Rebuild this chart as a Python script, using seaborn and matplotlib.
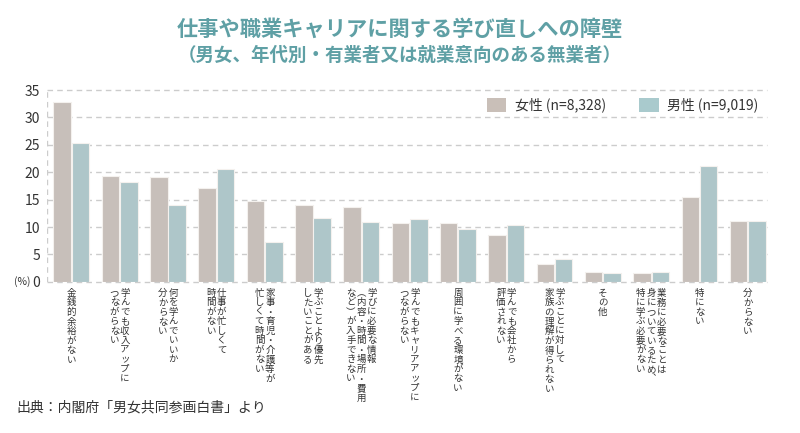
import numpy as np
import pandas as pd
import matplotlib
matplotlib.use("Agg")
import matplotlib.pyplot as plt
import matplotlib.transforms as mtrans
from matplotlib.patches import Patch
import seaborn as sns

# 縦書きラベル（右の列から順に）
labels = [
    ["金銭的余裕がない"],
    ["学んでも収入アップに", "つながらない"],
    ["何を学んでいいか", "分からない"],
    ["仕事が忙しくて", "時間がない"],
    ["家事・育児・介護等が", "忙しくて時間がない"],
    ["学ぶことより優先", "したいことがある"],
    ["学びに必要な情報", "︵内容・時間・場所・費用", "など︶が入手できない"],
    ["学んでもキャリアアップに", "つながらない"],
    ["周囲に学べる環境がない"],
    ["学んでも会社から", "評価されない"],
    ["学ぶことに対して", "家族の理解が得られない"],
    ["その他"],
    ["業務に必要なことは", "身についているため︑", "特に学ぶ必要がない"],
    ["特にない"],
    ["分からない"],
]
female = [32.9, 19.3, 19.2, 17.2, 14.7, 14.0, 13.6, 10.8, 10.8, 8.5, 3.3, 1.8, 1.7, 15.4, 11.1]
male = [25.4, 18.2, 14.0, 20.6, 7.2, 11.7, 10.9, 11.5, 9.7, 10.4, 4.1, 1.6, 1.8, 21.1, 11.1]
series = ["女性 (n=8,328)", "男性 (n=9,019)"]
colors = ["#c9bfb8", "#a9cacd"]
yticks = [0, 5, 10, 15, 20, 25, 30, 35]

sns.set_style("white")
plt.rcParams["font.family"] = ["Noto Sans CJK JP", "DejaVu Sans"]
txt = "#333333"

cats = [str(i) for i in range(len(labels))]
df = pd.DataFrame({
    "cat": cats * 2,
    "val": female + male,
    "sex": [series[0]] * len(cats) + [series[1]] * len(cats),
})

fig = plt.figure(figsize=(8, 4.33), dpi=100)
ax = fig.add_axes([0.059, 0.349, 0.9, 0.443])

sns.barplot(data=df, x="cat", y="val", hue="sex", palette=colors,
            width=0.76, gap=0.05, edgecolor="#f4f1ee", linewidth=0.8,
            legend=False, ax=ax, zorder=3)

ax.set_ylim(0, 35)
ax.set_xlim(-0.5, 14.4)
ax.set_yticks(yticks)
ax.set_yticklabels([str(t) for t in yticks], fontsize=10, color=txt)
ax.tick_params(axis="y", length=0, pad=5)
ax.set_xticks([])
ax.set_xlabel("")
ax.set_ylabel("")
for s in ax.spines.values():
    s.set_visible(False)
for t in yticks:
    ax.axhline(t, color="#cccccc", lw=1, ls=(0, (4, 3)), zorder=1, clip_on=False)
ax.axvline(-0.5, color="#cccccc", lw=1, ls=(0, (4, 3)), zorder=1)
fig.text(14 / 800, 1 - 282 / 433, "(%)", fontsize=7.5, color=txt,
         ha="left", va="center")

# 縦書きのカテゴリラベル
trans = ax.get_xaxis_transform()
for i, cols in enumerate(labels):
    n = len(cols)
    for j, col in enumerate(cols):
        off = mtrans.ScaledTranslation(((n - 1) / 2 - j) * 10.5 / 100, -7 / 100,
                                       fig.dpi_scale_trans)
        ax.text(i, 0, "\n".join(col), transform=trans + off, ha="center", va="top",
                fontsize=6.8, linespacing=1.07, color=txt)

handles = [Patch(facecolor=c, edgecolor="none") for c in colors]
ax.legend(handles, series, loc="upper right", bbox_to_anchor=(1.005, 1.025), ncol=2,
          frameon=False, fontsize=10, handlelength=1.4, handleheight=1.15,
          columnspacing=2.4, handletextpad=0.6, labelcolor=txt)

fig.text(0.5, 0.932, "仕事や職業キャリアに関する学び直しへの障壁", ha="center",
         va="center", fontsize=15.3, color="#5fa0a5", fontweight="bold")
fig.text(0.5, 0.873, "（男女、年代別・有業者又は就業意向のある無業者）", ha="center",
         va="center", fontsize=13.3, color="#5fa0a5", fontweight="bold")
fig.text(0.02, 0.058, "出典：内閣府「男女共同参画白書」より", ha="left", va="center",
         fontsize=10, color=txt)

fig.savefig("out.png", dpi=100, facecolor="white")
